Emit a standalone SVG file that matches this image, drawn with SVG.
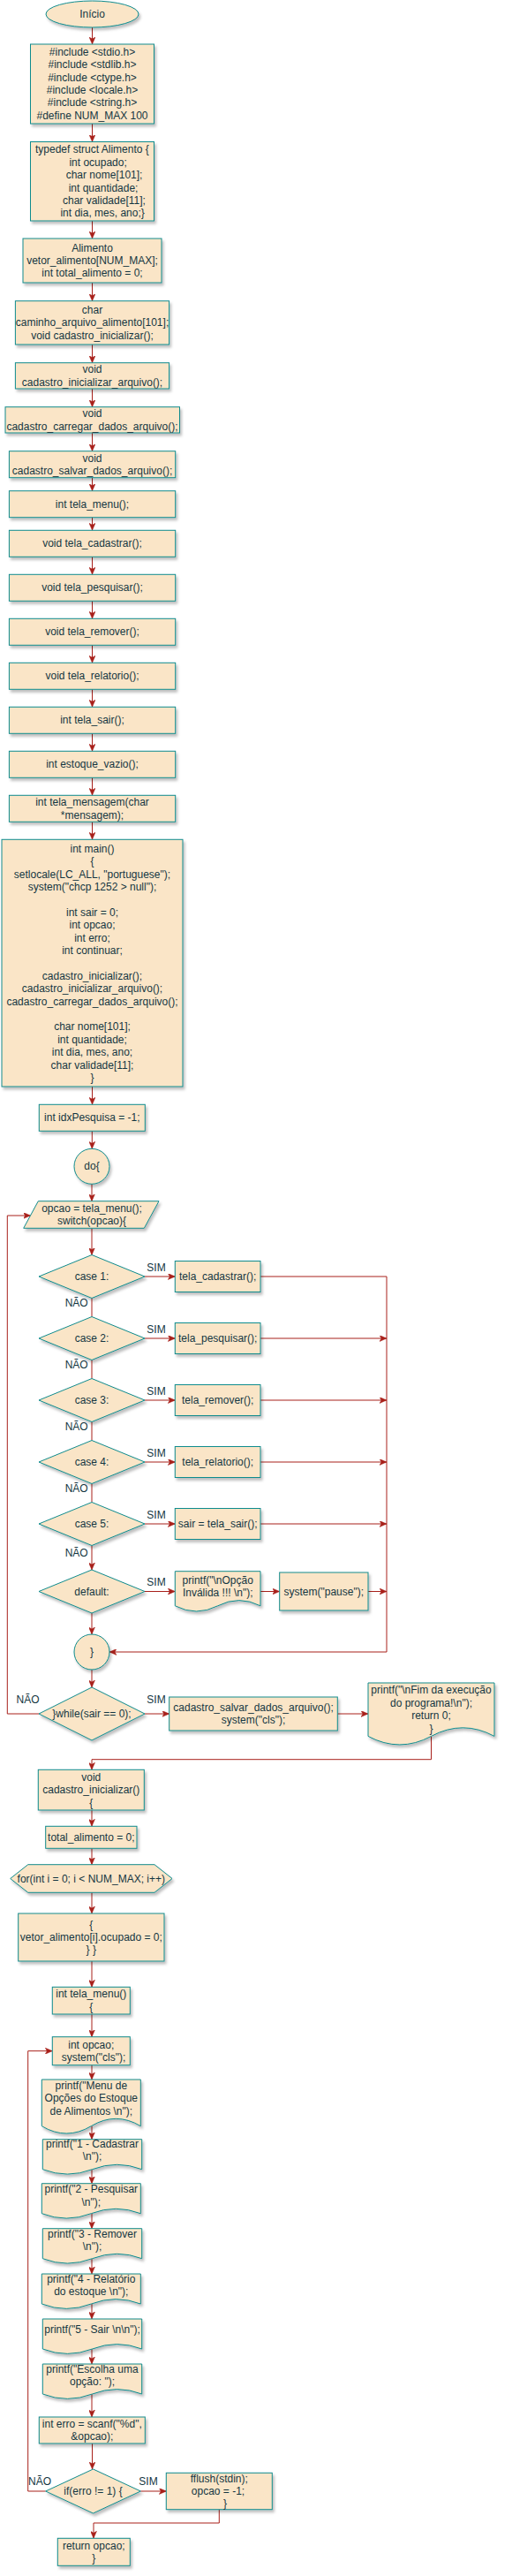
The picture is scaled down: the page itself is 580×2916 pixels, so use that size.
<svg xmlns="http://www.w3.org/2000/svg" width="580" height="2916" viewBox="0 0 580 2916">
<defs>
<filter id="sh" x="-10%" y="-10%" width="130%" height="140%">
<feDropShadow dx="2" dy="3" stdDeviation="1.5" flood-color="#000" flood-opacity="0.25"/>
</filter>
<marker id="arr" markerUnits="userSpaceOnUse" markerWidth="8" markerHeight="7" refX="8" refY="3.5" orient="auto" viewBox="0 0 8 7">
<path d="M0,0 L8,3.5 L0,7 L2,3.5 Z" fill="#A8201A" stroke="#A8201A" stroke-width="0.5"/>
</marker>
</defs>
<style>
.n { fill:#FAE5C7; stroke:#0F8B8D; stroke-width:1; filter:url(#sh); }
text { font-family:"Liberation Sans", Arial, Helvetica, sans-serif; font-size:12px; fill:#143642; text-anchor:middle; }
.l { text-anchor:start; }
.e { fill:none; stroke:#A8201A; stroke-width:1; }
.a { marker-end:url(#arr); }
.lb { fill:#143642; }
</style>
<rect width="580" height="2916" fill="#ffffff"/>

<g id="connectors">
<path class="e a" d="M104.5,31 V50"/>
<path class="e a" d="M104.5,140 V160.5"/>
<path class="e a" d="M104.5,250 V270"/>
<path class="e a" d="M104.5,320 V340.7"/>
<path class="e a" d="M104.5,390 V410.7"/>
<path class="e a" d="M104.5,440 V460.7"/>
<path class="e a" d="M104.5,490 V510.7"/>
<path class="e a" d="M104.5,540.7 V555.7"/>
<path class="e a" d="M104.5,585.7 V600.3"/>
<path class="e a" d="M104.5,630.3 V650.3"/>
<path class="e a" d="M104.5,680.3 V700.3"/>
<path class="e a" d="M104.5,730.3 V750.3"/>
<path class="e a" d="M104.5,780.3 V800.3"/>
<path class="e a" d="M104.5,830.3 V850.3"/>
<path class="e a" d="M104.5,880.3 V900.3"/>
<path class="e a" d="M104.5,930.3 V950.3"/>
<path class="e a" d="M104.5,1230 V1250.3"/>
<path class="e a" d="M104.3,1280.3 V1300.3"/>
<path class="e a" d="M104,1340.3 V1359.7"/>
<path class="e a" d="M104,1390.3 V1420.5"/>
<path class="e" d="M104,1469.5 V1490.5"/>
<path class="e" d="M104,1539.5 V1560.5"/>
<path class="e" d="M104,1609.5 V1630.5"/>
<path class="e" d="M104,1679.5 V1700.5"/>
<path class="e a" d="M104,1749.5 V1777"/>
<path class="e a" d="M104,1826 V1850"/>
<path class="e a" d="M104,1890 V1910"/>
<path class="e a" d="M164,1445 H198.3"/>
<path class="e a" d="M164,1515 H198.3"/>
<path class="e a" d="M164,1585 H198.3"/>
<path class="e a" d="M164,1655 H198.3"/>
<path class="e a" d="M164,1725 H198.3"/>
<path class="e a" d="M164,1801.5 H198.3"/>
<path class="e a" d="M295,1445 H438 V1870 H124"/>
<path class="e a" d="M295,1515 H438"/>
<path class="e a" d="M295,1585 H438"/>
<path class="e a" d="M295,1655 H438"/>
<path class="e a" d="M295,1725 H438"/>
<path class="e a" d="M295,1801.5 H316.7"/>
<path class="e a" d="M417,1801.5 H438"/>
<path class="e a" d="M44,1940 H8.3 V1376 H34.5"/>
<path class="e a" d="M164,1940 H191.7"/>
<path class="e a" d="M382.3,1940 H417"/>
<path class="e a" d="M488.5,1965.4 V1991.7 H104 V2003.3"/>
<path class="e a" d="M104,2049 V2067.3"/>
<path class="e a" d="M104,2092.3 V2110.7"/>
<path class="e a" d="M104,2142.3 V2166"/>
<path class="e a" d="M104,2220 V2249.3"/>
<path class="e a" d="M104,2280 V2305.7"/>
<path class="e a" d="M104,2337.7 V2354"/>
<path class="e a" d="M104,2406.7 V2421.7"/>
<path class="e a" d="M104,2455.7 V2471.7"/>
<path class="e a" d="M104,2505.7 V2522.7"/>
<path class="e a" d="M104,2556.7 V2574"/>
<path class="e a" d="M104,2608 V2625"/>
<path class="e a" d="M104,2659 V2676"/>
<path class="e a" d="M104,2710 V2736"/>
<path class="e a" d="M104.5,2766 V2795"/>
<path class="e a" d="M159.3,2820 H188.3"/>
<path class="e a" d="M51.7,2820 H31.7 V2321.7 H59.3"/>
<path class="e a" d="M248.3,2840.7 V2856 H106 V2873.3"/>
</g>

<g id="labels">
<text x="177" y="1438.5">SIM</text>
<text x="177" y="1508.5">SIM</text>
<text x="177" y="1578.5">SIM</text>
<text x="177" y="1648.5">SIM</text>
<text x="177" y="1718.5">SIM</text>
<text x="177" y="1795">SIM</text>
<text x="177" y="1928.3">SIM</text>
<text x="168" y="2813.3">SIM</text>
<text x="86.7" y="1478.7">NÃO</text>
<text x="86.7" y="1548.7">NÃO</text>
<text x="86.7" y="1618.7">NÃO</text>
<text x="86.7" y="1688.7">NÃO</text>
<text x="86.7" y="1761.7">NÃO</text>
<text x="31.5" y="1928.3">NÃO</text>
<text x="45" y="2813.3">NÃO</text>
</g>

<g id="n_inicio"><ellipse class="n" cx="104.5" cy="16" rx="52.5" ry="15"/><text x="104.5" y="20">Início</text></g>

<g id="n_includes"><rect class="n" x="34.5" y="50" width="140" height="90"/>
<text x="104.5" y="62.7">#include &lt;stdio.h&gt;</text>
<text x="104.5" y="77.1">#include &lt;stdlib.h&gt;</text>
<text x="104.5" y="91.5">#include &lt;ctype.h&gt;</text>
<text x="104.5" y="105.9">#include &lt;locale.h&gt;</text>
<text x="104.5" y="120.3">#include &lt;string.h&gt;</text>
<text x="104.5" y="134.7">#define NUM_MAX 100</text></g>

<g id="n_struct"><rect class="n" x="34.5" y="160.5" width="140" height="89.5"/>
<text class="l" x="40" y="173.3">typedef struct Alimento {</text>
<text class="l" x="78.4" y="187.7">int ocupado;</text>
<text class="l" x="74.7" y="202.1">char nome[101];</text>
<text class="l" x="77.7" y="216.5">int quantidade;</text>
<text class="l" x="71" y="230.9">char validade[11];</text>
<text class="l" x="68.4" y="245.3">int dia, mes, ano;}</text></g>

<g id="n_globals"><rect class="n" x="26" y="270" width="157" height="50"/>
<text x="104.5" y="284.6">Alimento</text>
<text x="104.5" y="299">vetor_alimento[NUM_MAX];</text>
<text x="104.5" y="313.4">int total_alimento = 0;</text></g>

<g id="n_caminho"><rect class="n" x="17.4" y="340.7" width="174.2" height="49.3"/>
<text x="104.5" y="355">char</text>
<text x="104.5" y="369.4">caminho_arquivo_alimento[101];</text>
<text x="104.5" y="383.8">void cadastro_inicializar();</text></g>

<g id="n_init_arq"><rect class="n" x="17.4" y="410.7" width="174.2" height="29.3"/>
<text x="104.5" y="422.2">void</text>
<text x="104.5" y="436.6">cadastro_inicializar_arquivo();</text></g>

<g id="n_carregar"><rect class="n" x="6" y="460.7" width="197.5" height="29.3"/>
<text x="104.5" y="472.2">void</text>
<text x="104.5" y="486.6">cadastro_carregar_dados_arquivo();</text></g>

<g id="n_salvar_decl"><rect class="n" x="10.4" y="510.7" width="188.3" height="30"/>
<text x="104.5" y="522.5">void</text>
<text x="104.5" y="536.9">cadastro_salvar_dados_arquivo();</text></g>

<g id="n_menu_decl"><rect class="n" x="10.4" y="555.7" width="188.3" height="30"/><text x="104.5" y="574.7">int tela_menu();</text></g>
<g id="n_cadastrar_decl"><rect class="n" x="10.4" y="600.3" width="188.3" height="30"/><text x="104.5" y="619.3">void tela_cadastrar();</text></g>
<g id="n_pesquisar_decl"><rect class="n" x="10.4" y="650.3" width="188.3" height="30"/><text x="104.5" y="669.3">void tela_pesquisar();</text></g>
<g id="n_remover_decl"><rect class="n" x="10.4" y="700.3" width="188.3" height="30"/><text x="104.5" y="719.3">void tela_remover();</text></g>
<g id="n_relatorio_decl"><rect class="n" x="10.4" y="750.3" width="188.3" height="30"/><text x="104.5" y="769.3">void tela_relatorio();</text></g>
<g id="n_sair_decl"><rect class="n" x="10.4" y="800.3" width="188.3" height="30"/><text x="104.5" y="819.3">int tela_sair();</text></g>
<g id="n_vazio_decl"><rect class="n" x="10.4" y="850.3" width="188.3" height="30"/><text x="104.5" y="869.3">int estoque_vazio();</text></g>
<g id="n_mensagem_decl"><rect class="n" x="10.4" y="900.3" width="188.3" height="30"/>
<text x="104.5" y="912.1">int tela_mensagem(char</text>
<text x="104.5" y="926.5">*mensagem);</text></g>

<g id="n_main"><rect class="n" x="2" y="950.3" width="205" height="279.7"/>
<text x="104.5" y="964.7">int main()</text>
<text x="104.5" y="979.1">{</text>
<text x="104.5" y="993.5">setlocale(LC_ALL, "portuguese");</text>
<text x="104.5" y="1007.9">system("chcp 1252 &gt; null");</text>
<text x="104.5" y="1036.7">int sair = 0;</text>
<text x="104.5" y="1051.1">int opcao;</text>
<text x="104.5" y="1065.5">int erro;</text>
<text x="104.5" y="1079.9">int continuar;</text>
<text x="104.5" y="1108.7">cadastro_inicializar();</text>
<text x="104.5" y="1123.1">cadastro_inicializar_arquivo();</text>
<text x="104.5" y="1137.5">cadastro_carregar_dados_arquivo();</text>
<text x="104.5" y="1166.3">char nome[101];</text>
<text x="104.5" y="1180.7">int quantidade;</text>
<text x="104.5" y="1195.1">int dia, mes, ano;</text>
<text x="104.5" y="1209.5">char validade[11];</text>
<text x="104.5" y="1223.9">}</text></g>

<g id="n_idx"><rect class="n" x="44.3" y="1250.3" width="120" height="30"/><text x="104.3" y="1269.3">int idxPesquisa = -1;</text></g>
<g id="n_do"><circle class="n" cx="104" cy="1320.3" r="20"/><text x="104" y="1324.3">do{</text></g>
<g id="n_switch"><polygon class="n" points="43.3,1359.7 180,1359.7 163.3,1390.3 26.7,1390.3"/>
<text x="104" y="1371.8">opcao = tela_menu();</text>
<text x="104" y="1386.2">switch(opcao){</text></g>

<g id="n_case1"><polygon class="n" points="104,1420.5 164,1445 104,1469.5 44,1445"/><text x="104" y="1449">case 1:</text></g>
<g id="n_case2"><polygon class="n" points="104,1490.5 164,1515 104,1539.5 44,1515"/><text x="104" y="1519">case 2:</text></g>
<g id="n_case3"><polygon class="n" points="104,1560.5 164,1585 104,1609.5 44,1585"/><text x="104" y="1589">case 3:</text></g>
<g id="n_case4"><polygon class="n" points="104,1630.5 164,1655 104,1679.5 44,1655"/><text x="104" y="1659">case 4:</text></g>
<g id="n_case5"><polygon class="n" points="104,1700.5 164,1725 104,1749.5 44,1725"/><text x="104" y="1729">case 5:</text></g>
<g id="n_default"><polygon class="n" points="104,1777 164,1801.5 104,1826 44,1801.5"/><text x="104" y="1805.5">default:</text></g>

<g id="n_tela_cadastrar"><rect class="n" x="198.3" y="1427.5" width="96.7" height="35"/><text x="246.7" y="1449">tela_cadastrar();</text></g>
<g id="n_tela_pesquisar"><rect class="n" x="198.3" y="1497.5" width="96.7" height="35"/><text x="246.7" y="1519">tela_pesquisar();</text></g>
<g id="n_tela_remover"><rect class="n" x="198.3" y="1567.5" width="96.7" height="35"/><text x="246.7" y="1589">tela_remover();</text></g>
<g id="n_tela_relatorio"><rect class="n" x="198.3" y="1637.5" width="96.7" height="35"/><text x="246.7" y="1659">tela_relatorio();</text></g>
<g id="n_tela_sair"><rect class="n" x="198.3" y="1707.5" width="96.7" height="35"/><text x="246.7" y="1729">sair = tela_sair();</text></g>
<g id="n_invalida"><path class="n" d="M198.3,1778.7 H295 V1817.8 Q270.8,1805.4 246.65,1817.8 Q222.5,1830.2 198.3,1817.8 Z"/>
<text x="246.7" y="1792.5">printf("\nOpção</text>
<text x="246.7" y="1806.9">Inválida !!! \n");</text></g>
<g id="n_pause"><rect class="n" x="316.7" y="1780" width="100.3" height="43"/><text x="366.8" y="1805.5">system("pause");</text></g>

<g id="n_fecha"><circle class="n" cx="104" cy="1870" r="20"/><text x="104" y="1874">}</text></g>
<g id="n_while"><polygon class="n" points="104,1910 164,1940 104,1970 44,1940"/><text x="104" y="1944">}while(sair == 0);</text></g>
<g id="n_salvar"><rect class="n" x="191.7" y="1921" width="190.6" height="38"/>
<text x="287" y="1936.8">cadastro_salvar_dados_arquivo();</text>
<text x="287" y="1951.2">system("cls");</text></g>
<g id="n_fim"><path class="n" d="M417,1905 H560 V1965.4 Q524.3,1946.2 488.5,1965.4 Q452.8,1984.5 417,1965.4 Z"/>
<text x="488.5" y="1917.4">printf("\nFim da execução</text>
<text x="488.5" y="1931.8">do programa!\n");</text>
<text x="488.5" y="1946.2">return 0;</text>
<text x="488.5" y="1960.6">}</text></g>

<g id="n_init_func"><rect class="n" x="43.3" y="2003.3" width="120" height="45.7"/>
<text x="103.3" y="2015.7">void</text>
<text x="103.3" y="2030.1">cadastro_inicializar()</text>
<text x="103.3" y="2044.5">{</text></g>
<g id="n_total"><rect class="n" x="51.7" y="2067.3" width="103.3" height="25"/><text x="103.3" y="2083.8">total_alimento = 0;</text></g>
<g id="n_for"><polygon class="n" points="11.7,2126.5 31.7,2110.7 175,2110.7 195,2126.5 175,2142.3 31.7,2142.3"/><text x="103.3" y="2130.5">for(int i = 0; i &lt; NUM_MAX; i++)</text></g>
<g id="n_vetor"><rect class="n" x="20.7" y="2166" width="165.3" height="54"/>
<text x="103.3" y="2182.6">{</text>
<text x="103.3" y="2197">vetor_alimento[i].ocupado = 0;</text>
<text x="103.3" y="2211.4">} }</text></g>
<g id="n_menu_func"><rect class="n" x="59.3" y="2249.3" width="88" height="30.7"/>
<text x="103.3" y="2261.4">int tela_menu()</text>
<text x="103.3" y="2275.8">{</text></g>
<g id="n_opcao"><rect class="n" x="59.3" y="2305.7" width="88" height="32"/>
<text x="103.3" y="2318.5">int opcao;</text>
<text x="106" y="2332.9">system("cls");</text></g>
<g id="n_p_menu"><path class="n" d="M47.3,2354 H159.3 V2406.7 Q131.3,2390 103.3,2406.7 Q75.3,2423.4 47.3,2406.7 Z"/>
<text x="103.3" y="2364.7">printf("Menu de</text>
<text x="103.3" y="2379.1">Opções do Estoque</text>
<text x="103.3" y="2393.5">de Alimentos \n");</text></g>
<g id="n_p1"><path class="n" d="M48.3,2421.7 H160.7 V2455.7 Q132.6,2444.9 104.5,2455.7 Q76.4,2466.5 48.3,2455.7 Z"/>
<text x="104.5" y="2431">printf("1 - Cadastrar</text>
<text x="104.5" y="2445.4">\n");</text></g>
<g id="n_p2"><path class="n" d="M47.3,2471.7 H159.3 V2505.7 Q131.3,2494.9 103.3,2505.7 Q75.3,2516.5 47.3,2505.7 Z"/>
<text x="103.3" y="2482.3">printf("2 - Pesquisar</text>
<text x="103.3" y="2496.7">\n");</text></g>
<g id="n_p3"><path class="n" d="M48.3,2522.7 H160.7 V2556.7 Q132.6,2545.9 104.5,2556.7 Q76.4,2567.5 48.3,2556.7 Z"/>
<text x="104.5" y="2533">printf("3 - Remover</text>
<text x="104.5" y="2547.4">\n");</text></g>
<g id="n_p4"><path class="n" d="M47.3,2574 H159.3 V2608 Q131.3,2597.2 103.3,2608 Q75.3,2618.8 47.3,2608 Z"/>
<text x="103.3" y="2584">printf("4 - Relatório</text>
<text x="103.3" y="2598.4">do estoque \n");</text></g>
<g id="n_p5"><path class="n" d="M48.3,2625 H160.7 V2659 Q132.6,2648.2 104.5,2659 Q76.4,2669.8 48.3,2659 Z"/>
<text x="104.5" y="2641.3">printf("5 - Sair \n\n");</text></g>
<g id="n_p_escolha"><path class="n" d="M48.3,2676 H160.7 V2710 Q132.6,2699.2 104.5,2710 Q76.4,2720.8 48.3,2710 Z"/>
<text x="104.5" y="2685.7">printf("Escolha uma</text>
<text x="104.5" y="2700.1">opção: ");</text></g>
<g id="n_scanf"><rect class="n" x="44.3" y="2736" width="120" height="30"/>
<text x="104.3" y="2748">int erro = scanf("%d",</text>
<text x="104.3" y="2762.4">&amp;opcao);</text></g>
<g id="n_if"><polygon class="n" points="105.5,2795 159.3,2820 105.5,2845 51.7,2820"/><text x="105.5" y="2824">if(erro != 1) {</text></g>
<g id="n_fflush"><rect class="n" x="188.3" y="2799.3" width="120" height="41.4"/>
<text x="248.3" y="2809.6">fflush(stdin);</text>
<text x="247" y="2824">opcao = -1;</text>
<text x="255" y="2838.4">}</text></g>
<g id="n_return"><rect class="n" x="65.3" y="2873.3" width="82" height="31"/>
<text x="106.3" y="2885.9">return opcao;</text>
<text x="106.3" y="2900.3">}</text></g>
</svg>
